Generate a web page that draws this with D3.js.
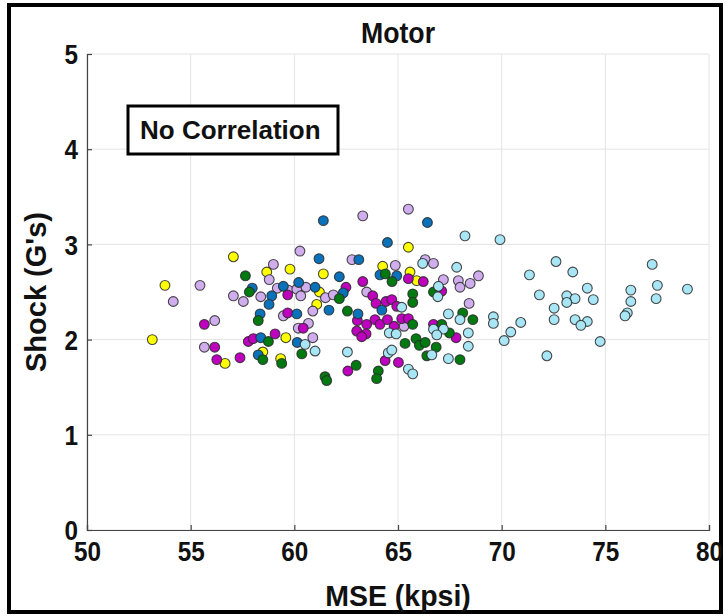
<!DOCTYPE html>
<html>
<head>
<meta charset="utf-8">
<script src="https://cdn.jsdelivr.net/npm/d3@7"></script>
<style>
  html, body { margin: 0; padding: 0; background: #fff; }
  svg text { font-family: "Liberation Sans", Arial, sans-serif; font-weight: bold; fill: #111; }
</style>
</head>
<body>
<svg id="chart" width="725" height="616"></svg>
<script>
const xTicks = [50, 55, 60, 65, 70, 75, 80];
const yTicks = [0, 1, 2, 3, 4, 5];
const title = "Motor";
const xLabel = "MSE (kpsi)";
const yLabel = "Shock (G's)";
const note = "No Correlation";

const seriesNames = ["yellow", "lilac", "magenta", "blue", "green", "cyan"];
const seriesColors = ["#FFFF00", "#D0AEEE", "#BE00BE", "#0A72BA", "#007A10", "#A8E6F6"];

const yellowPts = [
  [57.06,2.87],[53.76,2.57],[53.15,2.00],[56.66,1.75],[64.26,2.77],[59.79,2.74],[58.67,2.71],
  [61.40,2.69],[61.21,2.50],[61.08,2.37],[59.59,2.02],[58.48,1.87],[59.34,1.80],[65.50,2.97],
  [65.58,2.71],[65.90,2.62]
];
const lilacPts = [
  [55.45,2.57],[54.16,2.40],[57.06,2.46],[57.54,2.40],[56.16,2.20],[55.66,1.92],[63.30,3.30],
  [60.27,2.93],[62.78,2.84],[58.99,2.79],[64.87,2.78],[58.79,2.63],[59.18,2.54],[59.71,2.52],
  [60.12,2.53],[60.56,2.55],[63.49,2.50],[58.38,2.45],[60.31,2.46],[61.50,2.44],[61.88,2.47],
  [60.89,2.30],[59.47,2.25],[60.68,2.17],[60.19,2.12],[60.89,2.02],[65.50,3.37],[66.31,2.84],
  [66.71,2.80],[67.19,2.63],[67.91,2.62],[68.48,2.59],[68.88,2.67],[67.99,2.55],[68.43,2.38],
  [65.29,2.14]
];
const magentaPts = [
  [55.66,2.16],[56.16,1.92],[56.26,1.79],[57.38,1.81],[57.78,1.98],[63.30,2.61],[62.49,2.55],
  [59.68,2.47],[63.78,2.46],[63.94,2.38],[64.42,2.40],[64.70,2.42],[64.94,2.35],[59.68,2.28],
  [63.04,2.20],[63.49,2.16],[63.89,2.21],[64.13,2.16],[64.49,2.21],[64.81,2.14],[60.43,2.12],
  [63.01,2.09],[63.46,2.06],[63.25,2.03],[58.02,2.01],[59.07,2.06],[64.38,1.78],[62.58,1.67],
  [65.50,2.64],[66.22,2.61],[67.11,2.51],[65.18,2.22],[65.50,2.22],[66.71,2.16],[67.80,2.02],
  [65.02,1.76]
];
const bluePts = [
  [61.40,3.25],[64.49,3.02],[61.19,2.85],[63.11,2.84],[62.17,2.66],[64.13,2.68],[64.94,2.67],
  [60.21,2.60],[59.47,2.56],[57.97,2.54],[61.00,2.55],[58.91,2.46],[62.36,2.49],[58.78,2.37],
  [61.67,2.31],[64.22,2.31],[58.35,2.27],[60.12,2.27],[63.07,2.27],[58.38,2.02],[60.14,1.97],
  [58.26,1.84],[66.42,3.23]
];
const greenPts = [
  [57.64,2.67],[57.83,2.50],[64.39,2.69],[64.71,2.61],[62.17,2.43],[62.56,2.30],[58.26,2.20],
  [58.75,1.98],[58.48,1.79],[59.39,1.75],[60.36,1.85],[62.98,1.73],[61.48,1.61],[61.56,1.57],
  [64.05,1.67],[63.97,1.59],[66.71,2.50],[65.71,2.48],[65.71,2.39],[68.12,2.28],[68.61,2.21],
  [65.71,2.16],[67.11,2.16],[67.48,2.07],[65.87,2.01],[65.34,1.96],[66.03,1.94],[66.31,1.97],
  [66.84,1.92],[66.39,1.83],[67.99,1.79]
];
const cyanPts = [
  [60.52,1.95],[64.58,2.07],[64.91,2.06],[61.00,1.88],[62.56,1.87],[64.53,1.86],[68.23,3.09],
  [69.92,3.05],[66.19,2.80],[67.83,2.76],[66.95,2.56],[66.92,2.45],[71.34,2.68],[71.82,2.47],
  [65.18,2.34],[67.43,2.27],[67.99,2.21],[69.60,2.24],[69.60,2.17],[70.92,2.18],[66.71,2.11],
  [67.19,2.11],[66.87,2.05],[68.39,2.07],[70.44,2.08],[70.12,1.99],[68.39,1.93],[64.70,1.89],
  [72.18,1.83],[66.63,1.84],[67.43,1.80],[65.50,1.69],[65.71,1.64],[72.62,2.82],[73.43,2.71],
  [74.13,2.54],[73.14,2.46],[73.54,2.43],[73.14,2.39],[74.42,2.42],[72.53,2.33],[72.53,2.21],
  [73.54,2.21],[74.13,2.19],[73.82,2.15],[74.75,1.98],[77.26,2.79],[77.51,2.57],[78.96,2.53],
  [76.23,2.52],[76.23,2.40],[77.45,2.43],[76.06,2.28],[75.95,2.25]
];
const seriesData = [yellowPts, lilacPts, magentaPts, bluePts, greenPts, cyanPts];

const svg = d3.select("#chart");
const x = d3.scaleLinear().domain([50, 80]).range([87, 709]);
const y = d3.scaleLinear().domain([0, 5]).range([530, 54]);

// outer frame
svg.append("rect").attr("x", 9).attr("y", 5).attr("width", 712).attr("height", 607)
  .attr("fill", "#fff").attr("stroke", "#000").attr("stroke-width", 4);

// grid
const grid = svg.append("g");
grid.selectAll("line.gx").data(xTicks).enter().append("line")
  .attr("x1", d => x(d)).attr("x2", d => x(d)).attr("y1", y(0)).attr("y2", y(5))
  .attr("stroke", "#e4e4e4").attr("stroke-width", 1);
grid.selectAll("line.gy").data(yTicks).enter().append("line")
  .attr("x1", x(50)).attr("x2", x(80)).attr("y1", d => y(d)).attr("y2", d => y(d))
  .attr("stroke", "#e4e4e4").attr("stroke-width", 1);

// axes
const xAxis = svg.append("g").attr("transform", `translate(0,${y(0)})`)
  .call(d3.axisBottom(x).tickValues(xTicks).tickSize(-5).tickPadding(12).tickFormat(d3.format("d")));
const yAxis = svg.append("g").attr("transform", `translate(${x(50)},0)`)
  .call(d3.axisLeft(y).tickValues(yTicks).tickSize(-5).tickPadding(10).tickFormat(d3.format("d")));
[xAxis, yAxis].forEach(a => {
  a.select(".domain").attr("stroke", "#444").attr("stroke-width", 1.2);
  a.selectAll(".tick line").attr("stroke", "#444").attr("stroke-width", 1.2);
  a.selectAll(".tick text").attr("font-size", 27).attr("font-family", "'Liberation Sans', Arial, sans-serif")
    .attr("font-weight", "bold").attr("fill", "#111").attr("transform", "scale(0.9,1)");
});
xAxis.selectAll(".tick text").attr("dy", "0.72em");
yAxis.selectAll(".tick text").attr("dy", "0.36em");

// points
seriesData.forEach((pts, i) => {
  svg.append("g").attr("class", "s-" + seriesNames[i])
    .selectAll("circle").data(pts).enter().append("circle")
    .attr("cx", d => x(d[0])).attr("cy", d => y(d[1])).attr("r", 4.9)
    .attr("fill", seriesColors[i]).attr("stroke", "#2a2a2a").attr("stroke-width", 1.1)
    .attr("stroke-opacity", 0.85);
});

// annotation
svg.append("rect").attr("x", 128).attr("y", 106).attr("width", 210).attr("height", 48)
  .attr("fill", "#fff").attr("stroke", "#000").attr("stroke-width", 3);
svg.append("text").attr("x", 140).attr("y", 139).attr("font-size", 26).text(note);

// labels
svg.append("text").attr("transform", `translate(${x(65)},43) scale(0.92,1)`).attr("text-anchor", "middle")
  .attr("font-size", 29).text(title);
svg.append("text").attr("transform", `translate(${x(65)},606) scale(0.95,1)`).attr("text-anchor", "middle")
  .attr("font-size", 30).text(xLabel);
svg.append("text").attr("transform", `translate(46,${y(2.5)}) rotate(-90)`).attr("text-anchor", "middle")
  .attr("font-size", 29).text(yLabel);
</script>
</body>
</html>
